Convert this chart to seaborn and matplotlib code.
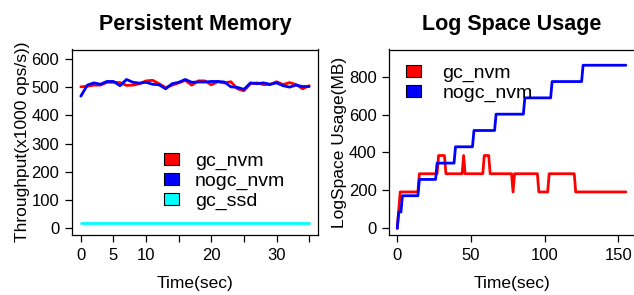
import matplotlib
matplotlib.use("Agg")
import matplotlib.pyplot as plt
from matplotlib.patches import Patch
import seaborn as sns
import pandas as pd

# ---- data: left panel (Persistent Memory throughput, x1000 ops/s) ----
tp_time = list(range(36))
tp_gc_nvm = [501, 503, 507, 507, 517, 517, 516, 506, 507, 512, 522, 524, 512, 498, 507, 515,
             524, 507, 522, 522, 508, 519, 515, 519, 494, 487, 512, 515, 509, 509, 519, 509,
             516, 509, 494, 505]
tp_nogc_nvm = [468, 507, 515, 510, 520, 520, 505, 527, 517, 514, 517, 510, 508, 494, 512, 517,
               527, 517, 518, 518, 520, 520, 518, 501, 499, 492, 515, 512, 515, 510, 515, 505,
               500, 507, 502, 502]
tp_gc_ssd = [20] * 36

# ---- data: right panel (Log space usage, MB) ----
log_gc_time = [0, 2, 14, 15, 27, 28, 32, 33, 44, 45, 46, 58, 59, 62, 63, 77.5, 78.5, 79.5,
               95, 96, 102, 103, 120, 121, 155]
log_gc_nvm = [0, 192, 192, 288, 288, 384, 384, 288, 288, 384, 288, 288, 384, 384, 288, 288, 192, 288,
              288, 192, 192, 288, 288, 192, 192]
log_nogc_time = [0, 1, 2.5, 3.5, 14, 15, 26, 27, 38.5, 39.5, 51, 52, 66, 67, 85.5, 86.5,
                 104, 105, 125, 126, 155]
log_nogc_nvm = [0, 86, 86, 172, 172, 258, 258, 344, 344, 430, 430, 516, 516, 602, 602, 688,
                688, 774, 774, 860, 860]

series_names = ["gc_nvm", "nogc_nvm", "gc_ssd"]
colors = {"gc_nvm": "#FF0000", "nogc_nvm": "#0000FF", "gc_ssd": "#00FFFF"}

left_df = pd.concat([
    pd.DataFrame({"t": tp_time, "v": tp_gc_nvm, "s": "gc_nvm"}),
    pd.DataFrame({"t": tp_time, "v": tp_nogc_nvm, "s": "nogc_nvm"}),
    pd.DataFrame({"t": tp_time, "v": tp_gc_ssd, "s": "gc_ssd"}),
], ignore_index=True)
right_df = pd.concat([
    pd.DataFrame({"t": log_gc_time, "v": log_gc_nvm, "s": "gc_nvm"}),
    pd.DataFrame({"t": log_nogc_time, "v": log_nogc_nvm, "s": "nogc_nvm"}),
], ignore_index=True)

sns.set_theme(style="ticks")
plt.rcParams["font.family"] = ["Liberation Sans", "DejaVu Sans"]
plt.rcParams["text.color"] = "black"
plt.rcParams["axes.labelcolor"] = "black"

FS_TICK = 12
FS_LAB = 12.5
FS_LEG = 14
FS_TITLE = 15.5
fig = plt.figure(figsize=(6.34, 2.95), dpi=100)
ax1 = fig.add_axes([71.7 / 634, 1 - 235 / 295, (318.3 - 71.7) / 634, (235 - 49.5) / 295])
ax2 = fig.add_axes([389 / 634, 1 - 235 / 295, (635 - 389) / 634, (235 - 49.5) / 295])

sns.lineplot(data=left_df, x="t", y="v", hue="s", palette=colors, ax=ax1,
             linewidth=2, legend=False, sort=False, estimator=None)
sns.lineplot(data=right_df, x="t", y="v", hue="s", palette=colors, ax=ax2,
             linewidth=2, legend=False, sort=False, estimator=None)

ax1.set_xlim(-1.4, 36.4)
ax1.set_ylim(-23, 633)
ax1.set_xticks([0, 5, 10, 15, 20, 25, 30, 35])
ax1.set_xticklabels(["0", "5", "10", "", "20", "", "30", ""])
ax1.set_yticks([0, 100, 200, 300, 400, 500, 600])

ax2.set_xlim(-5.6, 161.2)
ax2.set_ylim(-35, 943)
ax2.set_xticks([0, 50, 100, 150])
ax2.set_yticks([0, 200, 400, 600, 800])

for ax in (ax1, ax2):
    for sp in ax.spines.values():
        sp.set_visible(True)
        sp.set_color("black")
        sp.set_linewidth(0.9)
    ax.tick_params(direction="out", length=5, width=0.9, color="black",
                   labelsize=FS_TICK, labelcolor="black", pad=4)
    ax.set_xlabel("Time(sec)", fontsize=FS_LAB, labelpad=10, color="black")

ax1.set_ylabel("Throughput(x1000 ops/s))", fontsize=FS_LAB, labelpad=1, color="black")
ax2.set_ylabel("LogSpace Usage(MB)", fontsize=FS_LAB, labelpad=1, color="black")
ax1.set_title("Persistent Memory", fontsize=FS_TITLE, fontweight="bold", pad=14, color="black")
ax2.set_title("Log Space Usage", fontsize=FS_TITLE, fontweight="bold", pad=14, color="black")

h1 = [Patch(facecolor=colors[n], edgecolor="black", linewidth=0.8, label=n) for n in series_names]
ax1.legend(handles=h1, loc="upper left", bbox_to_anchor=(164 / 634, 1 - 153 / 295),
           bbox_transform=fig.transFigure, frameon=False, fontsize=FS_LEG, borderpad=0,
           handlelength=0.78, handleheight=0.6, handletextpad=0.8, labelspacing=0.14,
           borderaxespad=0)
h2 = [Patch(facecolor=colors[n], edgecolor="black", linewidth=0.8, label=n) for n in series_names[:2]]
ax2.legend(handles=h2, loc="upper left", bbox_to_anchor=(406 / 634, 1 - 65 / 295),
           bbox_transform=fig.transFigure, frameon=False, fontsize=FS_LEG, borderpad=0,
           handlelength=0.78, handleheight=0.6, handletextpad=1.1, labelspacing=0.14,
           borderaxespad=0)

fig.savefig("out.png", dpi=100)
